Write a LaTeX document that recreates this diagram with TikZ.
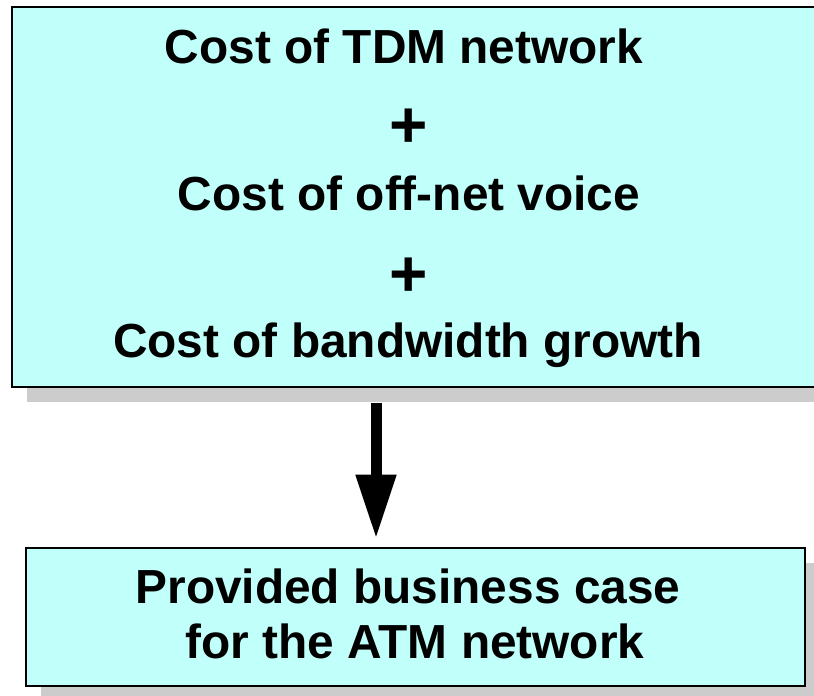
\documentclass[tikz,border=0pt]{standalone}
\usepackage{fontspec}
\setmainfont{Liberation Sans}
\usetikzlibrary{positioning}
\usetikzlibrary{arrows.meta}
\usetikzlibrary{shadows}
\definecolor{boxcyan}{RGB}{192,255,250}

\tikzset{
  costbox/.style={draw=black,line width=2.6bp,fill=boxcyan,
    drop shadow={shadow xshift=15bp,shadow yshift=-15bp,fill=black!20,opacity=1}},
  bigtext/.style={anchor=base,font=\bfseries\fontsize{48}{56}\selectfont,inner sep=0pt},
  plussign/.style={anchor=base,font=\bfseries\fontsize{66}{70}\selectfont,inner sep=0pt}
}

\begin{document}
\begin{tikzpicture}[x=1bp,y=-1bp]
  \useasboundingbox (0,0) rectangle (814,696);
  % boxes
  \node[costbox,minimum width=840bp,minimum height=380bp] (costs) at (432,197) {};
  \node[costbox,minimum width=779bp,minimum height=138bp] (case) at (415.5,617) {};
  % cost terms
  \node[bigtext] (tdm) at (404,64) {Cost of TDM network};
  \node[plussign] (plusa) at (408.5,148) {+};
  \node[bigtext] (offnet) at (409,210) {Cost of off-net voice};
  \node[plussign] (plusb) at (408.5,296) {+};
  \node[bigtext] (growth) at (408,357) {Cost of bandwidth growth};
  % result
  \node[bigtext] (provided) at (408,603) {Provided business case};
  \node[bigtext] (atm) at (415,658) {for the ATM network};
  \coordinate (arrtop) at (376,403);
  \draw[line width=11bp,-{Triangle[width=38bp,length=64bp]}] (arrtop) -- (arrtop |- case.north) [shorten >=8bp];
\end{tikzpicture}
\end{document}
